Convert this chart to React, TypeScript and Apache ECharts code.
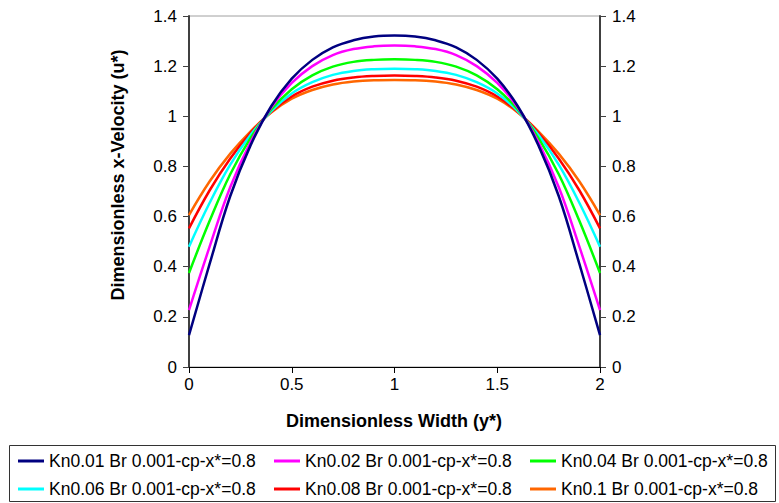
import React, { useEffect, useRef } from "react";
import * as echarts from "echarts";

const xValues = [0, 0.1, 0.2, 0.3, 0.4, 0.5, 0.6, 0.7, 0.8, 0.9, 1, 1.1, 1.2, 1.3, 1.4, 1.5, 1.6, 1.7, 1.8, 1.9, 2];

const seriesNames = [
  "Kn0.01 Br 0.001-cp-x*=0.8",
  "Kn0.02 Br 0.001-cp-x*=0.8",
  "Kn0.04 Br 0.001-cp-x*=0.8",
  "Kn0.06 Br 0.001-cp-x*=0.8",
  "Kn0.08 Br 0.001-cp-x*=0.8",
  "Kn0.1 Br 0.001-cp-x*=0.8",
];

const kn001 = [0.127, 0.41, 0.68, 0.885, 1.04, 1.15, 1.225, 1.275, 1.303, 1.318, 1.322, 1.318, 1.303, 1.275, 1.225, 1.15, 1.04, 0.885, 0.68, 0.41, 0.127];
const kn002 = [0.227, 0.479, 0.716, 0.897, 1.035, 1.133, 1.2, 1.244, 1.268, 1.279, 1.282, 1.279, 1.268, 1.244, 1.2, 1.133, 1.035, 0.897, 0.716, 0.479, 0.227];
const kn004 = [0.375, 0.582, 0.768, 0.914, 1.027, 1.108, 1.163, 1.198, 1.217, 1.225, 1.227, 1.225, 1.217, 1.198, 1.163, 1.108, 1.027, 0.914, 0.768, 0.582, 0.375];
const kn006 = [0.48, 0.654, 0.806, 0.926, 1.021, 1.091, 1.136, 1.165, 1.181, 1.188, 1.19, 1.188, 1.181, 1.165, 1.136, 1.091, 1.021, 0.926, 0.806, 0.654, 0.48];
const kn008 = [0.553, 0.704, 0.831, 0.934, 1.018, 1.079, 1.118, 1.142, 1.155, 1.161, 1.163, 1.161, 1.155, 1.142, 1.118, 1.079, 1.018, 0.934, 0.831, 0.704, 0.553];
const kn01 = [0.606, 0.74, 0.85, 0.94, 1.015, 1.07, 1.105, 1.127, 1.139, 1.144, 1.145, 1.144, 1.139, 1.127, 1.105, 1.07, 1.015, 0.94, 0.85, 0.74, 0.606];

const seriesValues = [kn001, kn002, kn004, kn006, kn008, kn01];
const colors = ["#000080", "#FF00FF", "#00FF00", "#00FFFF", "#FF0000", "#FF6600"];

const FONT = "'Liberation Sans', Arial, Helvetica, sans-serif";

export default function App() {
  const ref = useRef<HTMLDivElement>(null);

  useEffect(() => {
    if (!ref.current) return;
    const chart = echarts.init(ref.current, undefined, { renderer: "svg" });

    const series = seriesNames.map((name, i) => ({
      name,
      type: "line",
      data: xValues.map((x, j) => [x, seriesValues[i][j]]),
      smooth: 0.4,
      symbol: "none",
      showSymbol: false,
      lineStyle: { color: colors[i], width: 2.5 },
      itemStyle: { color: colors[i] },
      z: 10 - i,
    }));

    const yAxisCommon = {
      type: "value",
      min: 0,
      max: 1.4,
      interval: 0.2,
      axisLine: { show: true, lineStyle: { color: "#404040", width: 2 } },
      axisTick: { show: true, inside: false, length: 6, lineStyle: { color: "#404040", width: 1 } },
      axisLabel: { color: "#000", fontSize: 17, fontFamily: FONT, margin: 12 },
      splitLine: { show: false },
    };

    const legendCommon = {
      orient: "horizontal",
      left: 18,
      width: 760,
      padding: 0,
      icon: "rect",
      itemWidth: 26,
      itemHeight: 3,
      itemGap: 18,
      selectedMode: false,
      textStyle: { color: "#000", fontSize: 17.5, fontFamily: FONT, width: 207, lineHeight: 20 },
    };

    chart.setOption({
      animation: false,
      backgroundColor: "#fff",
      textStyle: { fontFamily: FONT },
      grid: {
        left: 189,
        top: 16,
        width: 411,
        height: 351,
        show: true,
        borderColor: "#a0a0a0",
        borderWidth: 1,
        backgroundColor: "transparent",
      },
      xAxis: {
        type: "value",
        min: 0,
        max: 2,
        interval: 0.5,
        axisLine: { show: true, onZero: false, lineStyle: { color: "#000", width: 1 } },
        axisTick: { show: true, inside: false, length: 6, lineStyle: { color: "#000" } },
        axisLabel: { color: "#000", fontSize: 17, fontFamily: FONT, margin: 9 },
        splitLine: { show: false },
      },
      yAxis: [
        { ...yAxisCommon, position: "left" },
        { ...yAxisCommon, position: "right" },
      ],
      legend: [
        { ...legendCommon, top: 451, data: seriesNames.slice(0, 3) },
        { ...legendCommon, top: 479, data: seriesNames.slice(3, 6) },
      ],
      graphic: [
        {
          type: "text",
          x: 118,
          y: 175,
          rotation: Math.PI / 2,
          style: {
            text: "Dimensionless x-Velocity (u*)",
            fontSize: 18,
            fontWeight: "bold",
            fontFamily: FONT,
            fill: "#000",
            align: "center",
            verticalAlign: "middle",
          },
        },
        {
          type: "text",
          x: 394,
          y: 421,
          style: {
            text: "Dimensionless Width (y*)",
            fontSize: 18,
            fontWeight: "bold",
            fontFamily: FONT,
            fill: "#000",
            align: "center",
            verticalAlign: "middle",
          },
        },
        {
          type: "rect",
          shape: { x: 9.5, y: 445.5, width: 766, height: 56 },
          style: { fill: "none", stroke: "#333", lineWidth: 1 },
          silent: true,
        },
      ],
      series,
    });

    return () => chart.dispose();
  }, []);

  return (
    <div
      ref={ref}
      style={{ position: "fixed", left: 0, top: 0, width: 779, height: 503 }}
    />
  );
}
